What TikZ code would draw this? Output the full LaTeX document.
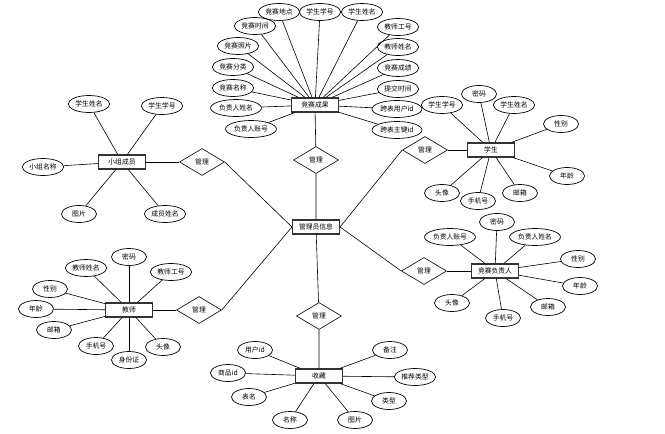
\documentclass[tikz,border=0pt]{standalone}
\usepackage{fontspec}
\setmainfont{Noto Sans CJK SC}
\usetikzlibrary{shapes.geometric}

\begin{document}
\begin{tikzpicture}[x=1pt,y=-1pt,
  every node/.append style={font=\fontsize{6.8}{7}\selectfont, text=black},
  attr/.style={ellipse,draw,line width=0.7pt,minimum width=35pt,minimum height=17pt,inner xsep=1pt,inner ysep=0pt},
  entity/.style={rectangle,draw=black!80,line width=1.1pt,minimum width=47pt,minimum height=14pt,inner sep=1pt},
  rel/.style={diamond,draw,line width=0.6pt,minimum width=45pt,minimum height=27pt,inner sep=0pt},
  link/.style={draw,line width=0.6pt}]
\useasboundingbox[fill=white] (0,0) rectangle (665,434);

% entities
\node[entity] (admin) at (316,227) {管理员信息};
\node[entity] (result) at (315,105) {竞赛成果};
\node[entity] (group) at (122,162) {小组成员};
\node[entity] (student) at (491,150) {学生};
\node[entity] (leader) at (495,271) {竞赛负责人};
\node[entity] (teacher) at (129,310) {教师};
\node[entity] (fav) at (319,376) {收藏};

% relations
\node[rel] (rtop) at (316,160) {管理};
\node[rel] (rgroup) at (202,162) {管理};
\node[rel] (rstudent) at (425,150) {管理};
\node[rel] (rleader) at (424,271) {管理};
\node[rel] (rteacher) at (199,310) {管理};
\node[rel] (rfav) at (319,316) {管理};

\draw[link] (result) -- (rtop) -- (admin);
\draw[link] (fav) -- (rfav) -- (admin);
\draw[link] (group) -- (rgroup.west);
\draw[link] (rgroup.east) -- (admin.west);
\draw[link] (teacher) -- (rteacher.west);
\draw[link] (rteacher.east) -- (admin.west);
\draw[link] (student) -- (rstudent.east);
\draw[link] (rstudent.west) -- (admin.east);
\draw[link] (leader) -- (rleader.east);
\draw[link] (rleader.west) -- (admin.east);

% attributes
\foreach \txt/\x/\y [count=\i] in {竞赛地点/279/12, 学生学号/320/12, 学生姓名/362/12,
    教师工号/398/27, 教师姓名/398/47, 竞赛成绩/398/68, 提交时间/398/89,
    跨表用户id/397/109, 跨表主键id/397/130, 竞赛时间/255/26, 竞赛照片/238/46,
    竞赛分类/233/67, 竞赛名称/233/88, 负责人姓名/236/108, 负责人账号/251/129}
  {\node[attr] (ra\i) at (\x,\y) {\txt};
   \draw[link] (ra\i) -- (result);}

\foreach \txt/\x/\y [count=\i] in {学生姓名/89/104, 学生学号/162/106, 小组名称/43/167,
    图片/79/214, 成员姓名/165/214}
  {\node[attr] (ga\i) at (\x,\y) {\txt};
   \draw[link] (ga\i) -- (group);}

\foreach \txt/\x/\y [count=\i] in {学生学号/442/105, 密码/479/94, 学生姓名/514/105,
    性别/561/124, 年龄/567/176, 邮箱/520/193, 手机号/478/201, 头像/442/193}
  {\node[attr] (sa\i) at (\x,\y) {\txt};
   \draw[link] (sa\i) -- (student);}

\foreach \txt/\x/\y [count=\i] in {密码/497/222, 负责人账号/450/237, 负责人姓名/535/237,
    性别/578/259, 年龄/580/286, 邮箱/548/307, 手机号/503/318, 头像/452/303}
  {\node[attr] (la\i) at (\x,\y) {\txt};
   \draw[link] (la\i) -- (leader);}

\foreach \txt/\x/\y [count=\i] in {密码/129/257, 教师姓名/86/268, 教师工号/171/272,
    性别/50/289, 年龄/36/309, 邮箱/54/330, 手机号/96/346, 身份证/129/360, 头像/163/347}
  {\node[attr] (ta\i) at (\x,\y) {\txt};
   \draw[link] (ta\i) -- (teacher);}

\foreach \txt/\x/\y [count=\i] in {用户id/255/350, 商品id/228/373, 表名/249/397,
    名称/290/420, 图片/355/420, 类型/389/401, 推荐类型/415/377, 备注/390/350}
  {\node[attr] (fa\i) at (\x,\y) {\txt};
   \draw[link] (fa\i) -- (fav);}
\end{tikzpicture}
\end{document}
